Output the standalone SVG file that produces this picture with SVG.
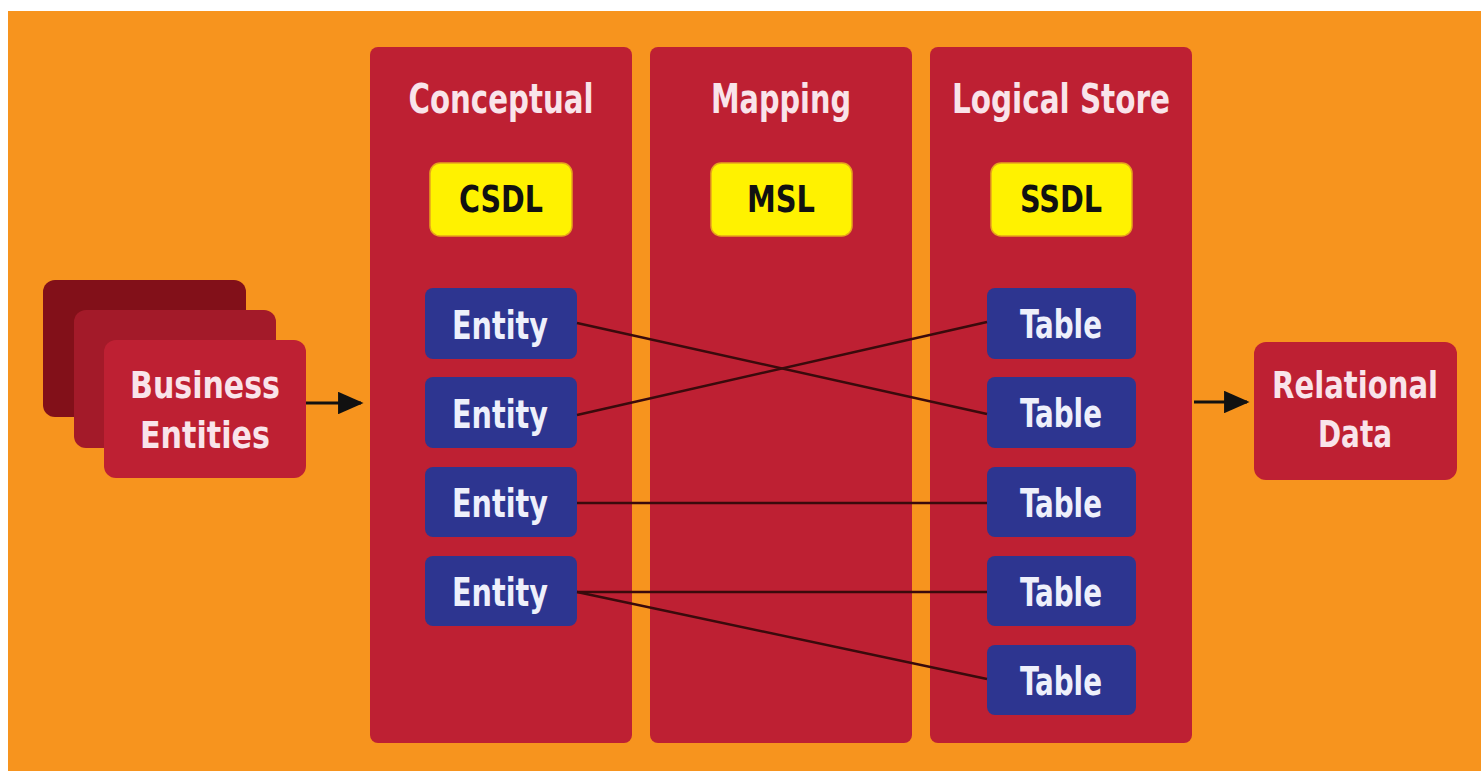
<svg xmlns="http://www.w3.org/2000/svg" width="1481" height="771" viewBox="0 0 1481 771">
<style>
.t{font-family:"DejaVu Sans Condensed","DejaVu Sans","Liberation Sans",sans-serif;font-stretch:condensed;font-weight:bold;text-anchor:middle}
.head{font-size:40px;fill:#f9e4ea}
.lbl{font-size:38px;fill:#111}
.item{font-size:39px;fill:#eef0fb}
.side{font-size:38px;fill:#f9e4ea}
.col{fill:#be2033}
.yel{fill:#fff200;stroke:#e7a51c;stroke-width:1.5}
.blue{fill:#2d3590}
.conn{stroke:#3a0a0c;stroke-width:2.5;fill:none}
.arr{stroke:#111;stroke-width:3;fill:none;marker-end:url(#ah)}
</style>
<defs>
<marker id="ah" viewBox="0 0 10 10" refX="9" refY="5" markerWidth="8.5" markerHeight="7.5" markerUnits="strokeWidth" orient="auto" preserveAspectRatio="none">
<path d="M0,0 L10,5 L0,10 z" fill="#111"/>
</marker>
</defs>
<rect x="0" y="0" width="1481" height="771" fill="#ffffff"/>
<rect x="8" y="11" width="1473" height="760" fill="#f7941e"/>

<g id="business-entities">
<rect x="43" y="280" width="203" height="137" rx="12" fill="#821019"/>
<rect x="74" y="310" width="202" height="138" rx="12" fill="#a31a29"/>
<rect x="104" y="340" width="202" height="138" rx="12" fill="#be2033"/>
<text class="t side" x="205" y="398" textLength="150" lengthAdjust="spacingAndGlyphs">Business</text>
<text class="t side" x="205" y="448" textLength="130" lengthAdjust="spacingAndGlyphs">Entities</text>
</g>

<g id="conceptual">
<rect class="col" x="370" y="47" width="262" height="696" rx="8"/>
<text class="t head" x="501" y="113" textLength="185" lengthAdjust="spacingAndGlyphs">Conceptual</text>
</g>
<g id="mapping">
<rect class="col" x="650" y="47" width="262" height="696" rx="8"/>
<text class="t head" x="781" y="113" textLength="140" lengthAdjust="spacingAndGlyphs">Mapping</text>
</g>
<g id="logical-store">
<rect class="col" x="930" y="47" width="262" height="696" rx="8"/>
<text class="t head" x="1061" y="113" textLength="218" lengthAdjust="spacingAndGlyphs">Logical Store</text>
</g>

<g id="csdl"><rect class="yel" x="430" y="163" width="142" height="73" rx="10"/><text class="t lbl" x="501" y="212" textLength="84" lengthAdjust="spacingAndGlyphs">CSDL</text></g>
<g id="msl"><rect class="yel" x="711" y="163" width="141" height="73" rx="10"/><text class="t lbl" x="781" y="212" textLength="68" lengthAdjust="spacingAndGlyphs">MSL</text></g>
<g id="ssdl"><rect class="yel" x="991" y="163" width="141" height="73" rx="10"/><text class="t lbl" x="1061" y="212" textLength="82" lengthAdjust="spacingAndGlyphs">SSDL</text></g>

<g id="entity1"><rect class="blue" x="425" y="288" width="152" height="71" rx="8"/><text class="t item" x="500" y="339" textLength="96" lengthAdjust="spacingAndGlyphs">Entity</text></g>
<g id="entity2"><rect class="blue" x="425" y="377" width="152" height="71" rx="8"/><text class="t item" x="500" y="428" textLength="96" lengthAdjust="spacingAndGlyphs">Entity</text></g>
<g id="entity3"><rect class="blue" x="425" y="467" width="152" height="70" rx="8"/><text class="t item" x="500" y="517" textLength="96" lengthAdjust="spacingAndGlyphs">Entity</text></g>
<g id="entity4"><rect class="blue" x="425" y="556" width="152" height="70" rx="8"/><text class="t item" x="500" y="606" textLength="96" lengthAdjust="spacingAndGlyphs">Entity</text></g>

<g id="table1"><rect class="blue" x="987" y="288" width="149" height="71" rx="8"/><text class="t item" x="1061" y="338" textLength="82" lengthAdjust="spacingAndGlyphs">Table</text></g>
<g id="table2"><rect class="blue" x="987" y="377" width="149" height="71" rx="8"/><text class="t item" x="1061" y="427" textLength="82" lengthAdjust="spacingAndGlyphs">Table</text></g>
<g id="table3"><rect class="blue" x="987" y="467" width="149" height="70" rx="8"/><text class="t item" x="1061" y="517" textLength="82" lengthAdjust="spacingAndGlyphs">Table</text></g>
<g id="table4"><rect class="blue" x="987" y="556" width="149" height="70" rx="8"/><text class="t item" x="1061" y="606" textLength="82" lengthAdjust="spacingAndGlyphs">Table</text></g>
<g id="table5"><rect class="blue" x="987" y="645" width="149" height="70" rx="8"/><text class="t item" x="1061" y="695" textLength="82" lengthAdjust="spacingAndGlyphs">Table</text></g>

<g id="relational-data">
<rect x="1254" y="342" width="203" height="138" rx="12" fill="#be2033"/>
<text class="t side" x="1355" y="398" textLength="166" lengthAdjust="spacingAndGlyphs">Relational</text>
<text class="t side" x="1355" y="447" textLength="74" lengthAdjust="spacingAndGlyphs">Data</text>
</g>

<g id="connectors">
<line class="conn" x1="577" y1="323" x2="987" y2="414"/>
<line class="conn" x1="577" y1="415" x2="987" y2="322"/>
<line class="conn" x1="577" y1="503" x2="987" y2="503"/>
<line class="conn" x1="577" y1="592" x2="987" y2="592"/>
<line class="conn" x1="577" y1="592" x2="987" y2="679"/>
<line class="arr" x1="306" y1="403" x2="361" y2="403"/>
<line class="arr" x1="1194" y1="402" x2="1247" y2="402"/>
</g>
</svg>
